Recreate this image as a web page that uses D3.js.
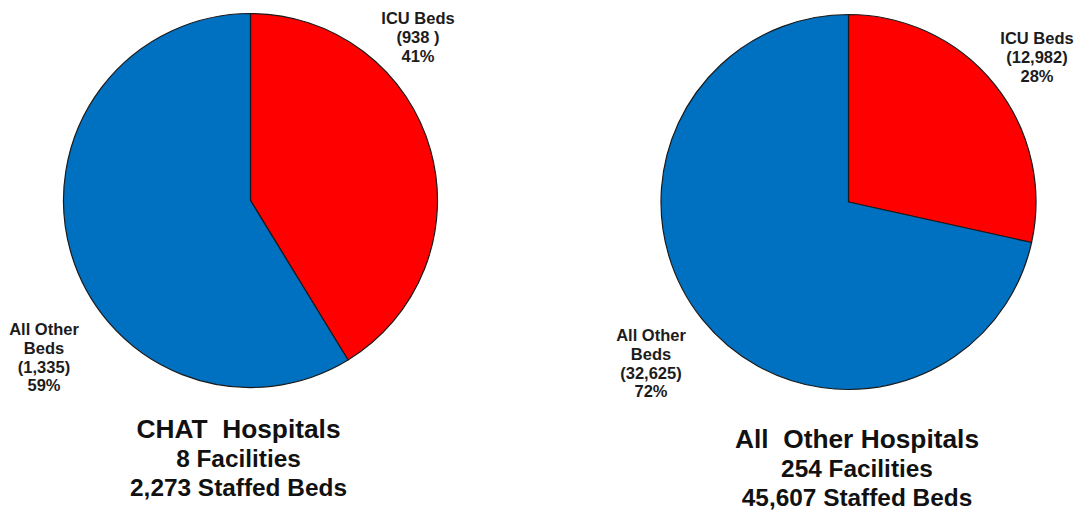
<!DOCTYPE html>
<html>
<head>
<meta charset="utf-8">
<script src="https://cdn.jsdelivr.net/npm/d3@7"></script>
<style>
  html, body { margin: 0; padding: 0; background: #ffffff; }
  svg { display: block; }
  text { font-family: "Liberation Sans", Arial, sans-serif; font-weight: bold; fill: #1c1c1c; }
</style>
</head>
<body>
<svg id="chart" width="1076" height="510"></svg>
<script>
// Bed categories shown in each pie (clockwise from 12 o'clock)
const categories = ["ICU Beds", "All Other Beds"];
const categoryLines = [["ICU Beds"], ["All Other", "Beds"]];
const sliceColors = ["#ff0000", "#0070c0"];

// Staffed beds by category
const chatBeds = [938, 1335];
const otherHospitalBeds = [12982, 32625];

// Hospital group titles and facility counts
const groupNames = ["CHAT  Hospitals", "All  Other Hospitals"];
const facilityCounts = [8, 254];

const groups = [
  { name: groupNames[0], facilities: facilityCounts[0], values: chatBeds,
    cx: 250.5, cy: 200.5, r: 187,
    labelPos: [[418, 24], [44, 335]], titleX: 238.5, titleY: 438 },
  { name: groupNames[1], facilities: facilityCounts[1], values: otherHospitalBeds,
    cx: 848.5, cy: 202, r: 187.5,
    labelPos: [[1037, 44], [651, 341]], titleX: 857, titleY: 448 }
];

const svg = d3.select("#chart");
const fmt = d3.format(",");
const pct = d3.format(".0%");
// Small counts are written with a trailing space inside the brackets
const countText = v => "(" + fmt(v) + (v < 1000 ? " " : "") + ")";

const pie = d3.pie().sort(null).value(d => d);

groups.forEach(g => {
  const total = d3.sum(g.values);
  const arc = d3.arc().innerRadius(0).outerRadius(g.r);
  const gp = svg.append("g").attr("transform", `translate(${g.cx},${g.cy})`);

  gp.selectAll("path")
    .data(pie(g.values))
    .join("path")
    .attr("d", arc)
    .attr("fill", (d, i) => sliceColors[i])
    .attr("stroke", "#1a1a1a")
    .attr("stroke-width", 1.2)
    .attr("stroke-linejoin", "round");

  // Slice labels: name, bed count, share of total
  g.values.forEach((v, i) => {
    const lines = categoryLines[i].concat([countText(v), pct(v / total)]);
    const t = svg.append("text")
      .attr("x", g.labelPos[i][0])
      .attr("y", g.labelPos[i][1])
      .attr("text-anchor", "middle")
      .style("font-size", "16.5px");
    lines.forEach((s, k) => {
      t.append("tspan")
        .attr("x", g.labelPos[i][0])
        .attr("dy", k === 0 ? 0 : 18.8)
        .text(s);
    });
  });

  // Group title block beneath the pie
  const title = svg.append("text")
    .attr("x", g.titleX)
    .attr("y", g.titleY)
    .attr("text-anchor", "middle")
    .attr("xml:space", "preserve")
    .style("white-space", "pre")
    .style("fill", "#111");
  title.append("tspan").attr("x", g.titleX).style("font-size", "26.3px").text(g.name);
  title.append("tspan").attr("x", g.titleX).attr("dy", 29).style("font-size", "24.4px")
    .text(fmt(g.facilities) + " Facilities");
  title.append("tspan").attr("x", g.titleX).attr("dy", 28.5).style("font-size", "24.4px")
    .text(fmt(total) + " Staffed Beds");
});
</script>
</body>
</html>
